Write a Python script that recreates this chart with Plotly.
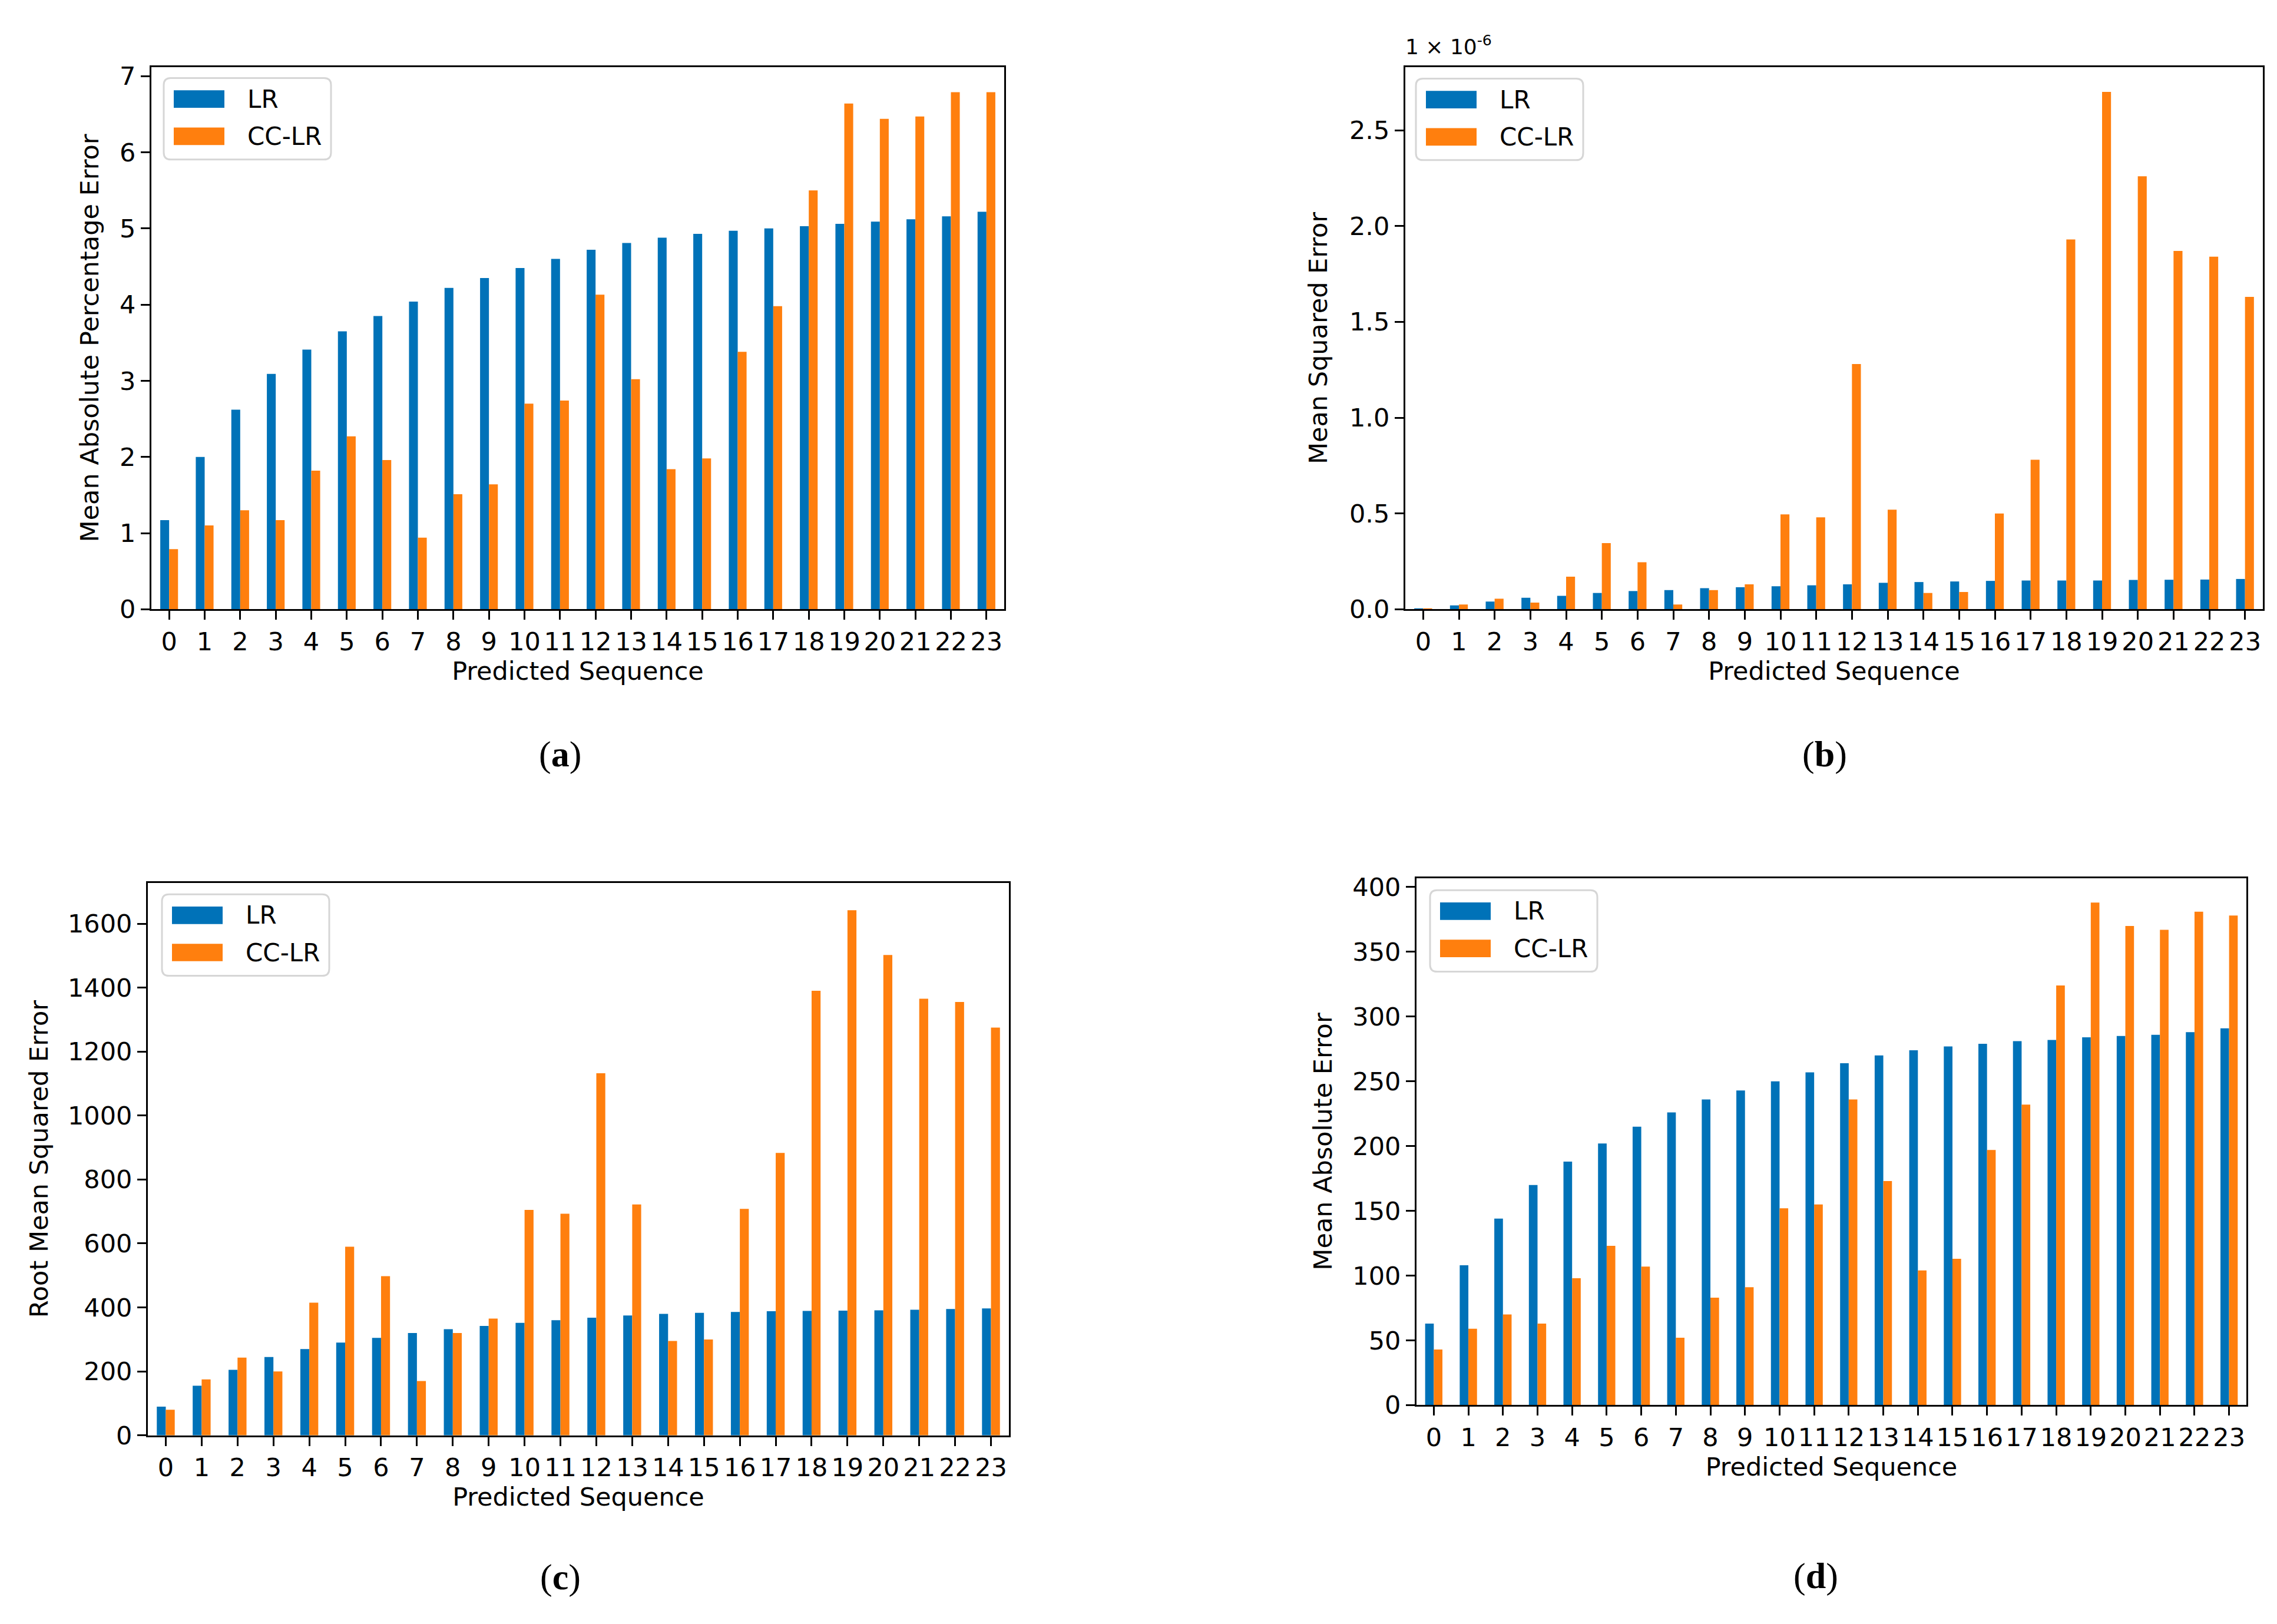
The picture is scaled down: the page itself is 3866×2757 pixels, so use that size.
import plotly.graph_objects as go

W, H = 3866, 2757

categories = list(range(24))
tick_labels = [str(c) for c in categories]

mape_lr = [1.17, 2.00, 2.62, 3.09, 3.41, 3.65, 3.85, 4.04, 4.22, 4.35, 4.48, 4.60,
           4.72, 4.81, 4.88, 4.93, 4.97, 5.00, 5.03, 5.06, 5.09, 5.12, 5.16, 5.22]
mape_cclr = [0.79, 1.10, 1.30, 1.17, 1.82, 2.27, 1.96, 0.94, 1.51, 1.64, 2.70, 2.74,
             4.13, 3.02, 1.84, 1.98, 3.38, 3.98, 5.50, 6.64, 6.44, 6.47, 6.79, 6.79]

# Mean squared error, in units of 1e-6
mse_lr = [0.005, 0.020, 0.040, 0.060, 0.070, 0.085, 0.095, 0.100, 0.110, 0.115, 0.120, 0.125,
          0.130, 0.138, 0.142, 0.145, 0.148, 0.150, 0.150, 0.150, 0.153, 0.154, 0.155, 0.158]
mse_cclr = [0.003, 0.025, 0.055, 0.035, 0.170, 0.345, 0.245, 0.025, 0.100, 0.130, 0.495, 0.480,
            1.280, 0.520, 0.085, 0.090, 0.500, 0.780, 1.930, 2.700, 2.260, 1.870, 1.840, 1.630]

rmse_lr = [90, 155, 205, 245, 270, 290, 305, 320, 332, 342, 352, 360,
           368, 375, 380, 383, 386, 388, 389, 390, 391, 393, 395, 397]
rmse_cclr = [80, 175, 243, 200, 415, 590, 498, 170, 320, 365, 705, 693,
             1132, 722, 295, 300, 708, 883, 1390, 1642, 1502, 1365, 1355, 1275]

mae_lr = [63, 108, 144, 170, 188, 202, 215, 226, 236, 243, 250, 257,
          264, 270, 274, 277, 279, 281, 282, 284, 285, 286, 288, 291]
mae_cclr = [43, 59, 70, 63, 98, 123, 107, 52, 83, 91, 152, 155,
            236, 173, 104, 113, 197, 232, 324, 388, 370, 367, 381, 378]

series_names = ["LR", "CC-LR"]
BLUE = "#0072B8"
ORANGE = "#FF7F0E"
COLORS = [BLUE, ORANGE]

FONT = "DejaVu Sans"
FS = 43

# panel geometry in pixels (left, right, top, bottom)
panels = [
    dict(px=(249, 1697, 98, 1030), data=(mape_lr, mape_cclr), ytitle="Mean Absolute Percentage Error",
         yrange=[0, 7.12], dtick=1, fmt="d", legend=(270, 117), label="a", lab=(943, 1279), stand=22),
    dict(px=(2378, 3834, 98, 1030), data=(mse_lr, mse_cclr), ytitle="Mean Squared Error",
         yrange=[0, 2.83], dtick=0.5, fmt=".1f", legend=(2396, 118), label="b", lab=(3090, 1279), stand=24),
    dict(px=(243, 1705, 1500, 2450), data=(rmse_lr, rmse_cclr), ytitle="Root Mean Squared Error",
         yrange=[0, 1728], dtick=200, fmt="d", legend=(267, 1520), label="c", lab=(943, 2694), stand=20),
    dict(px=(2397, 3806, 1492, 2398), data=(mae_lr, mae_cclr), ytitle="Mean Absolute Error",
         yrange=[0, 407], dtick=50, fmt="d", legend=(2420, 1513), label="d", lab=(3075, 2692), stand=22),
]

# legend box layout (pixels, relative to box top-left)
LEG_W, LEG_H, LEG_R = 284, 140, 12
SW_X0, SW_X1, SW_H = 17, 103, 30
ROW_Y = [36, 100]
TXT_X = 140


def px_x(v):
    return v / W


def px_y(v):
    return 1 - v / H


def rounded_box(x0, y0, x1, y1, r):
    pts = [
        f"M{px_x(x0 + r)},{px_y(y0)}",
        f"L{px_x(x1 - r)},{px_y(y0)}",
        f"Q{px_x(x1)},{px_y(y0)} {px_x(x1)},{px_y(y0 + r)}",
        f"L{px_x(x1)},{px_y(y1 - r)}",
        f"Q{px_x(x1)},{px_y(y1)} {px_x(x1 - r)},{px_y(y1)}",
        f"L{px_x(x0 + r)},{px_y(y1)}",
        f"Q{px_x(x0)},{px_y(y1)} {px_x(x0)},{px_y(y1 - r)}",
        f"L{px_x(x0)},{px_y(y0 + r)}",
        f"Q{px_x(x0)},{px_y(y0)} {px_x(x0 + r)},{px_y(y0)}",
        "Z",
    ]
    return " ".join(pts)


fig = go.Figure()
layout = dict(
    width=W, height=H, margin=dict(l=0, r=0, t=0, b=0),
    paper_bgcolor="white", plot_bgcolor="white",
    font=dict(family=FONT, size=FS, color="black"),
    barmode="group", bargap=0.5, bargroupgap=0.0,
    showlegend=False,
    annotations=[], shapes=[],
)

for i, p in enumerate(panels):
    n = "" if i == 0 else str(i + 1)
    l, r, t, b = p["px"]
    xd = [l / W, r / W]
    yd = [1 - b / H, 1 - t / H]
    for vals, name, col in zip(p["data"], series_names, COLORS):
        fig.add_trace(go.Bar(
            x=categories, y=vals, name=name, marker=dict(color=col, line=dict(width=0)),
            xaxis="x" + n, yaxis="y" + n,
        ))
    common = dict(showline=True, linewidth=3, linecolor="black", mirror=True,
                  ticks="outside", ticklen=15, tickwidth=3, tickcolor="black",
                  showgrid=False, zeroline=False,
                  tickfont=dict(family=FONT, size=FS, color="black"))
    layout["xaxis" + n] = dict(
        domain=xd, anchor="y" + n, range=[-0.5, 23.5],
        tickmode="array", tickvals=categories, ticktext=tick_labels,
        title=dict(text="Predicted Sequence", font=dict(family=FONT, size=FS), standoff=10),
        **common)
    layout["yaxis" + n] = dict(
        domain=yd, anchor="x" + n, range=p["yrange"], dtick=p["dtick"], tick0=0,
        tickformat=p["fmt"],
        title=dict(text=p["ytitle"], font=dict(family=FONT, size=FS), standoff=p["stand"]),
        **common)

    # legend drawn as box + swatches + labels
    lx, ly = p["legend"]
    layout["shapes"].append(dict(
        type="path", xref="paper", yref="paper", layer="above",
        path=rounded_box(lx, ly, lx + LEG_W, ly + LEG_H, LEG_R),
        fillcolor="rgba(255,255,255,0.85)", line=dict(color="#d6d6d6", width=3)))
    for k, (name, col) in enumerate(zip(series_names, COLORS)):
        cy = ly + ROW_Y[k]
        layout["shapes"].append(dict(
            type="rect", xref="paper", yref="paper", layer="above",
            x0=px_x(lx + SW_X0), x1=px_x(lx + SW_X1),
            y0=px_y(cy + SW_H / 2), y1=px_y(cy - SW_H / 2),
            fillcolor=col, line=dict(width=0)))
        layout["annotations"].append(dict(
            text=name, x=px_x(lx + TXT_X), y=px_y(cy), xref="paper", yref="paper",
            xanchor="left", yanchor="middle", showarrow=False,
            font=dict(family=FONT, size=42, color="black")))

    cx, cy = p["lab"]
    layout["annotations"].append(dict(
        text="(<b>%s</b>)" % p["label"], x=px_x(cx), y=px_y(cy), xref="paper", yref="paper",
        xanchor="center", yanchor="middle", showarrow=False,
        font=dict(family="Liberation Serif", size=62, color="black")))

layout["annotations"].append(dict(
    text="1 × 10<sup>-6</sup>", x=px_x(2376), y=px_y(86), xref="paper", yref="paper",
    xanchor="left", yanchor="bottom", showarrow=False,
    font=dict(family=FONT, size=36, color="black")))

fig.update_layout(**layout)
fig.write_html("out.html")
